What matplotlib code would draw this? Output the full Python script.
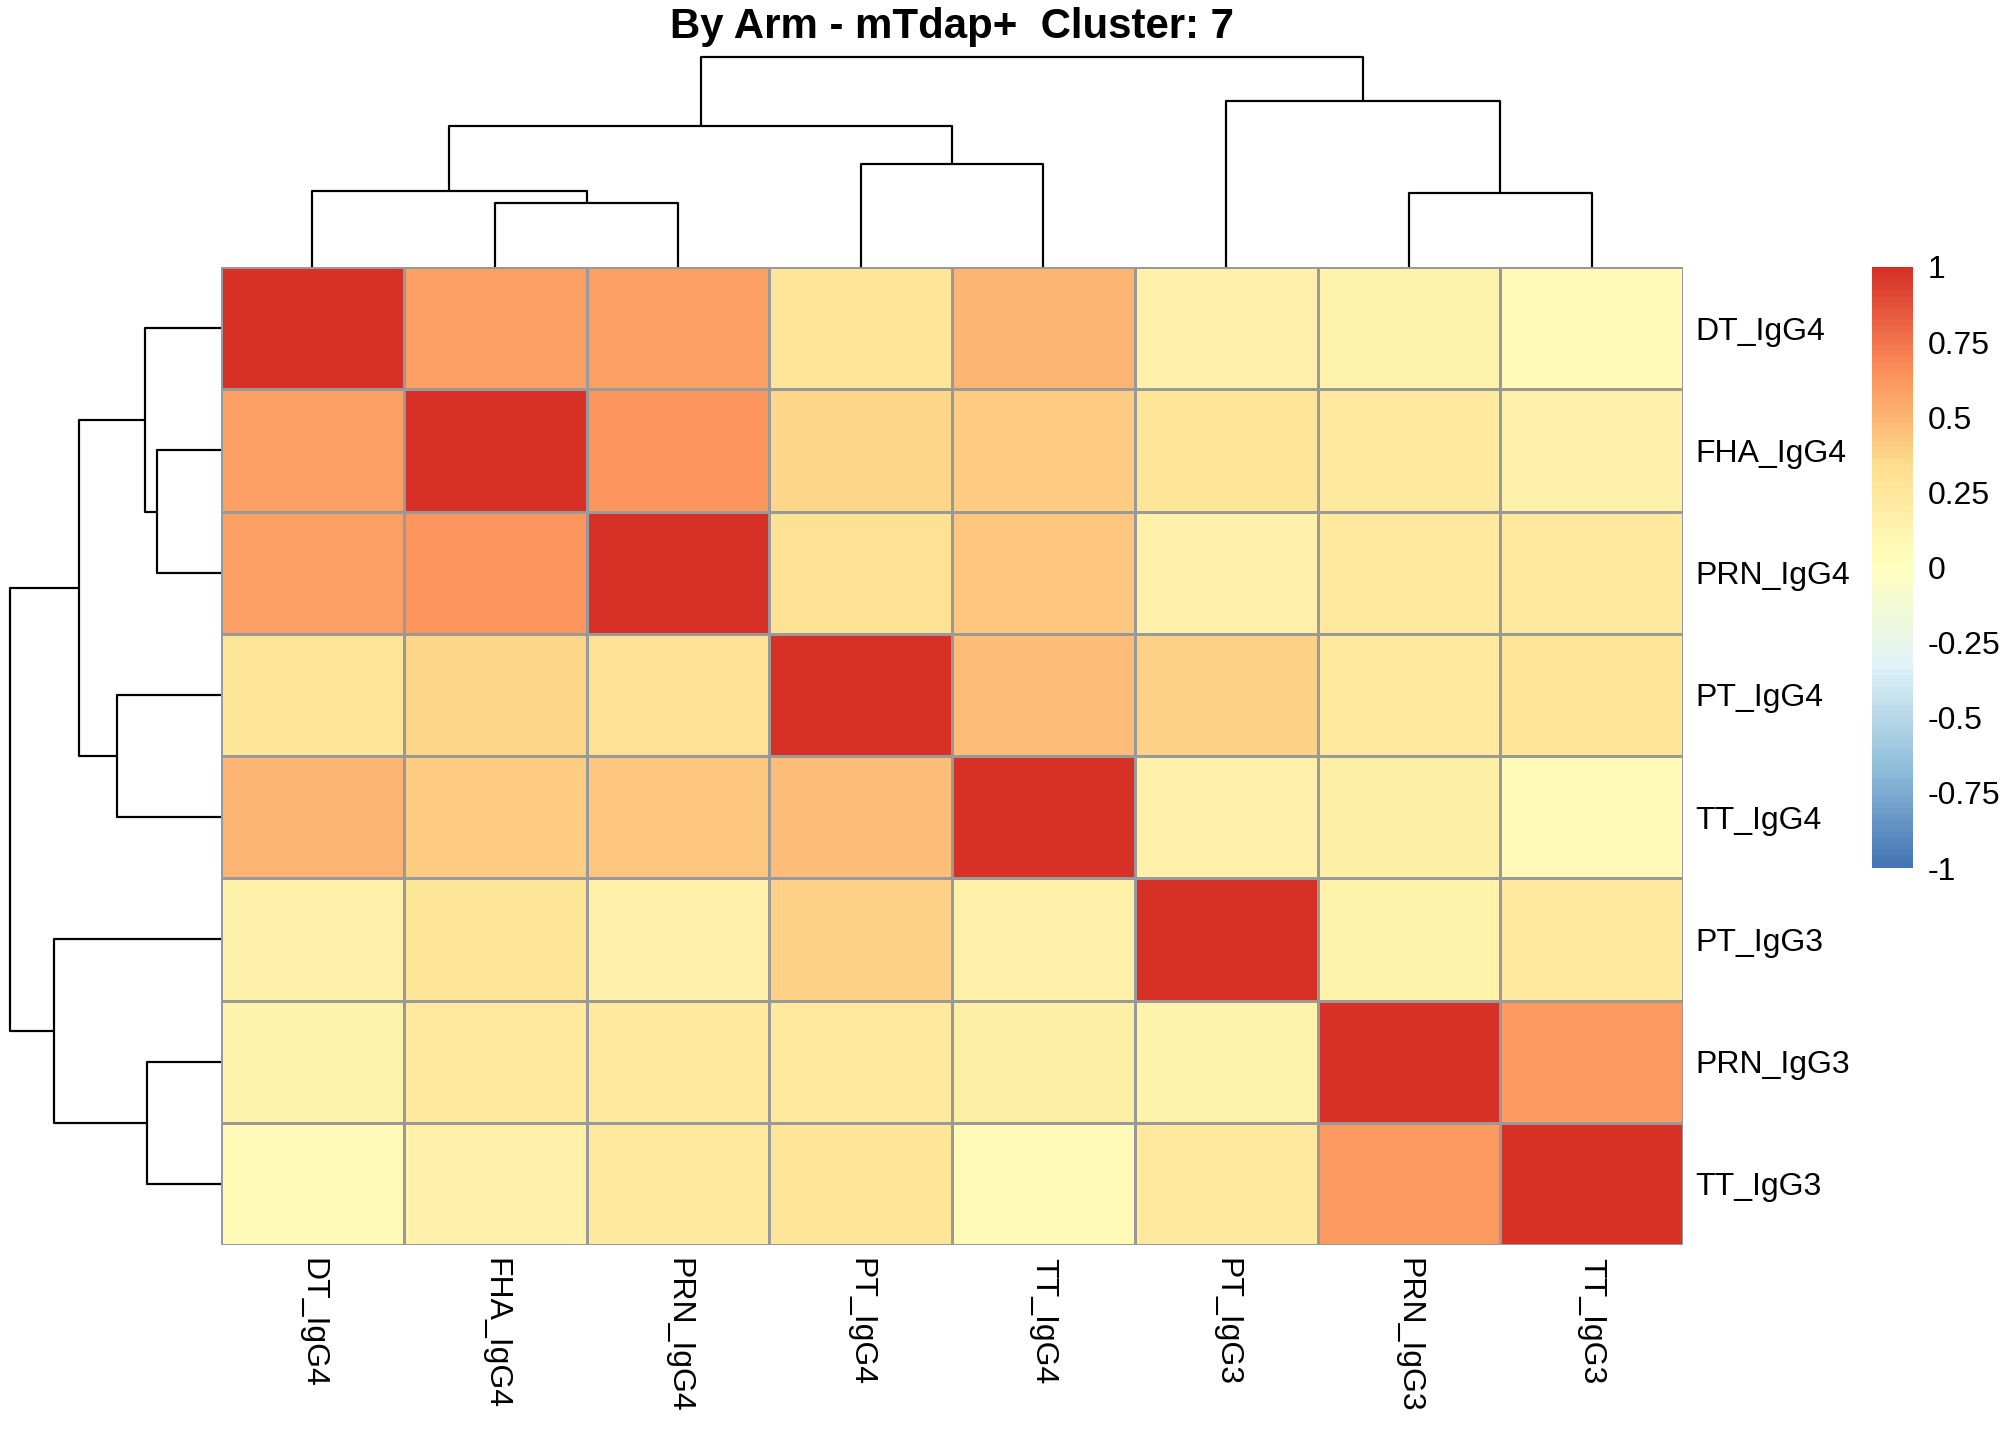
import numpy as np
import matplotlib
matplotlib.use('Agg')
import matplotlib.pyplot as plt
from matplotlib.colors import LinearSegmentedColormap

plt.rcParams['font.family'] = ['Liberation Sans', 'DejaVu Sans']

# ==========================================
# DATA
# ==========================================
TITLE = "By Arm - mTdap+  Cluster: 7"

labels = ["DT_IgG4", "FHA_IgG4", "PRN_IgG4", "PT_IgG4",
          "TT_IgG4", "PT_IgG3", "PRN_IgG3", "TT_IgG3"]

# correlation matrix, rows/cols already in dendrogram order
corr = [
    [1.00, 0.59, 0.59, 0.27, 0.51, 0.16, 0.13, 0.04],
    [0.59, 1.00, 0.62, 0.37, 0.41, 0.27, 0.23, 0.15],
    [0.59, 0.62, 1.00, 0.30, 0.42, 0.15, 0.22, 0.22],
    [0.27, 0.37, 0.30, 1.00, 0.47, 0.39, 0.23, 0.26],
    [0.51, 0.41, 0.42, 0.47, 1.00, 0.15, 0.17, 0.05],
    [0.16, 0.27, 0.15, 0.39, 0.15, 1.00, 0.12, 0.22],
    [0.13, 0.23, 0.22, 0.23, 0.17, 0.12, 1.00, 0.60],
    [0.04, 0.15, 0.22, 0.26, 0.05, 0.22, 0.60, 1.00],
]

# linkage: (left child, right child, height); ids >= 8 are earlier merges
merge_left = [1, 6, 0, 3, 10, 5, 12]
merge_right = [2, 7, 8, 4, 11, 9, 13]
merge_height = [0.637, 0.737, 0.753, 1.027, 1.403, 1.657, 2.09]

legend_ticks = [1, 0.75, 0.5, 0.25, 0, -0.25, -0.5, -0.75, -1]
legend_labels = ["1", "0.75", "0.5", "0.25", "0", "-0.25", "-0.5", "-0.75", "-1"]

palette = ["#4575B4", "#91BFDB", "#E0F3F8", "#FFFFBF", "#FEE090", "#FC8D59", "#D73027"]
cmap = LinearSegmentedColormap.from_list("rdylbu_r", palette, N=100)

FS = 16
W, H = 2016, 1440


def fig_box(x0, y0, x1, y1):
    """pixel box (top-left origin) -> figure fraction rect"""
    return [x0 / W, 1 - y1 / H, (x1 - x0) / W, (y1 - y0) / H]


def dendro_segments():
    n = len(labels)
    pos = {i: i + 0.5 for i in range(n)}
    hgt = {i: 0.0 for i in range(n)}
    segs = []
    for k, (a, b, h) in enumerate(zip(merge_left, merge_right, merge_height)):
        segs.append(([pos[a], pos[a], pos[b], pos[b]], [hgt[a], h, h, hgt[b]]))
        pos[n + k] = (pos[a] + pos[b]) / 2
        hgt[n + k] = h
    return segs


fig = plt.figure(figsize=(14, 10), dpi=144)

# heatmap
ax = fig.add_axes(fig_box(221, 267, 1683, 1245))
data = np.array(corr)
ax.pcolormesh(data, cmap=cmap, vmin=-1, vmax=1, edgecolors="#999999", linewidth=1.3)
ax.set_xlim(0, len(labels))
ax.set_ylim(len(labels), 0)
ax.set_xticks(np.arange(len(labels)) + 0.5)
ax.set_xticklabels(labels, rotation=-90, fontsize=FS)
ax.set_yticks(np.arange(len(labels)) + 0.5)
ax.set_yticklabels(labels, fontsize=FS)
ax.yaxis.tick_right()
ax.tick_params(axis='x', length=0, pad=6.5)
ax.tick_params(axis='y', length=0, pad=6)
for s in ax.spines.values():
    s.set_visible(False)

segs = dendro_segments()
top_h = max(merge_height)

# column dendrogram
axc = fig.add_axes(fig_box(221, 57, 1683, 267))
for xs, ys in segs:
    axc.plot(xs, ys, color="black", lw=1.1, clip_on=False, solid_capstyle='butt')
axc.set_xlim(0, len(labels))
axc.set_ylim(0, top_h)
axc.axis('off')

# row dendrogram
axr = fig.add_axes(fig_box(10, 267, 221, 1245))
for xs, ys in segs:
    axr.plot(ys, xs, color="black", lw=1.1, clip_on=False, solid_capstyle='butt')
axr.set_xlim(top_h, 0)
axr.set_ylim(len(labels), 0)
axr.axis('off')

# legend bar
axl = fig.add_axes(fig_box(1872, 267, 1912, 868))
grad = np.linspace(-1, 1, 100).reshape(-1, 1)
axl.imshow(grad, cmap=cmap, vmin=-1, vmax=1, aspect='auto', origin='lower',
           extent=[0, 1, -1, 1])
axl.set_xticks([])
axl.set_yticks(legend_ticks)
axl.set_yticklabels(legend_labels, fontsize=FS)
axl.yaxis.tick_right()
axl.tick_params(axis='y', length=0, pad=8)
for s in axl.spines.values():
    s.set_visible(False)

fig.text(952 / W, 1 - 38 / H, TITLE, ha='center', va='baseline',
         fontsize=21, fontweight='bold')

fig.savefig("out.png", dpi=144)
